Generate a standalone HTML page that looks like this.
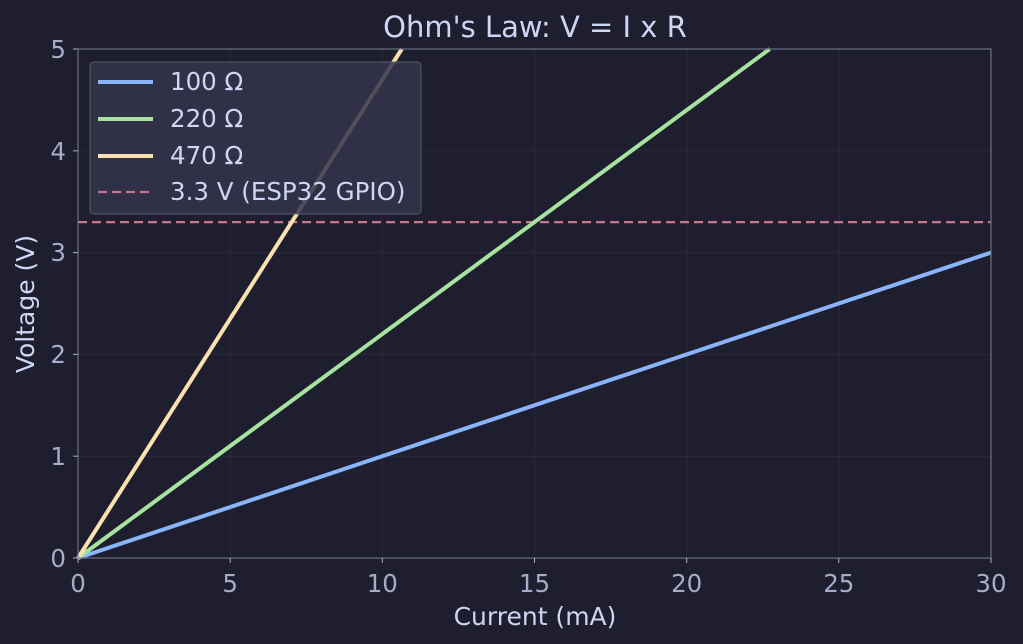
<!DOCTYPE html>
<html><head><meta charset="utf-8"><style>
html,body{margin:0;padding:0;background:#1e1e2e;}
svg{display:block;font-family:"DejaVu Sans","Liberation Sans",sans-serif;}
</style></head><body>
<svg width="1023" height="644" viewBox="0 0 1023 644" xmlns="http://www.w3.org/2000/svg">
<rect width="1023" height="644" fill="#1e1e2e"/>
<g stroke="#2a2a3c" stroke-width="1">
<line x1="230.2" y1="49" x2="230.2" y2="558"/>
<line x1="382.3" y1="49" x2="382.3" y2="558"/>
<line x1="534.5" y1="49" x2="534.5" y2="558"/>
<line x1="686.7" y1="49" x2="686.7" y2="558"/>
<line x1="838.8" y1="49" x2="838.8" y2="558"/>
<line x1="78" y1="456.2" x2="991" y2="456.2"/>
<line x1="78" y1="354.4" x2="991" y2="354.4"/>
<line x1="78" y1="252.6" x2="991" y2="252.6"/>
<line x1="78" y1="150.8" x2="991" y2="150.8"/>
</g>
<line x1="78" y1="222.1" x2="991" y2="222.1" stroke="#c27890" stroke-width="2.2" stroke-dasharray="9,5"/>
<line x1="78" y1="558" x2="991" y2="252.6" stroke="#89b4fa" stroke-width="4"/>
<line x1="78" y1="558" x2="769.7" y2="49" stroke="#a6e3a1" stroke-width="4"/>
<line x1="78" y1="558" x2="401.8" y2="49" stroke="#f9e2af" stroke-width="4"/>
<rect x="78" y="49" width="913" height="509" fill="none" stroke="#6c7086" stroke-width="1.2"/>
<rect x="90" y="62" width="331" height="152" rx="4" fill="#34344a" fill-opacity="0.85" stroke="#585b70"/>
<line x1="98" y1="82" x2="153" y2="82" stroke="#89b4fa" stroke-width="4"/>
<line x1="98" y1="119" x2="153" y2="119" stroke="#a6e3a1" stroke-width="4"/>
<line x1="98" y1="156" x2="153" y2="156" stroke="#f9e2af" stroke-width="4"/>
<line x1="98" y1="192" x2="153" y2="192" stroke="#c27890" stroke-width="2.2" stroke-dasharray="9,5"/>
<g fill="#cdd6f4" font-size="24.5">
<text x="170" y="90">100 Ω</text>
<text x="170" y="127">220 Ω</text>
<text x="170" y="164">470 Ω</text>
<text x="170" y="200">3.3 V (ESP32 GPIO)</text>
</g>
<text x="535" y="37" fill="#cdd6f4" font-size="29" text-anchor="middle">Ohm's Law: V = I x R</text>
<text x="535" y="625" fill="#cdd6f4" font-size="25" text-anchor="middle">Current (mA)</text>
<text transform="translate(34,304) rotate(-90)" fill="#cdd6f4" font-size="25" text-anchor="middle">Voltage (V)</text>
<g stroke="#a6adc8" stroke-width="1">
<line x1="78" y1="558" x2="78" y2="563"/><line x1="230.2" y1="558" x2="230.2" y2="563"/><line x1="382.3" y1="558" x2="382.3" y2="563"/><line x1="534.5" y1="558" x2="534.5" y2="563"/><line x1="686.7" y1="558" x2="686.7" y2="563"/><line x1="838.8" y1="558" x2="838.8" y2="563"/><line x1="991" y1="558" x2="991" y2="563"/>
<line x1="73" y1="558" x2="78" y2="558"/><line x1="73" y1="456.2" x2="78" y2="456.2"/><line x1="73" y1="354.4" x2="78" y2="354.4"/><line x1="73" y1="252.6" x2="78" y2="252.6"/><line x1="73" y1="150.8" x2="78" y2="150.8"/><line x1="73" y1="49" x2="78" y2="49"/>
</g>
<g fill="#a6adc8" font-size="24.5" text-anchor="middle">
<text x="78" y="592">0</text><text x="230.2" y="592">5</text><text x="382.3" y="592">10</text><text x="534.5" y="592">15</text><text x="686.7" y="592">20</text><text x="838.8" y="592">25</text><text x="991" y="592">30</text>
</g>
<g fill="#a6adc8" font-size="24.5" text-anchor="end">
<text x="66" y="567">0</text><text x="66" y="465">1</text><text x="66" y="363">2</text><text x="66" y="261">3</text><text x="66" y="160">4</text><text x="66" y="58">5</text>
</g>
</svg>
</body></html>
